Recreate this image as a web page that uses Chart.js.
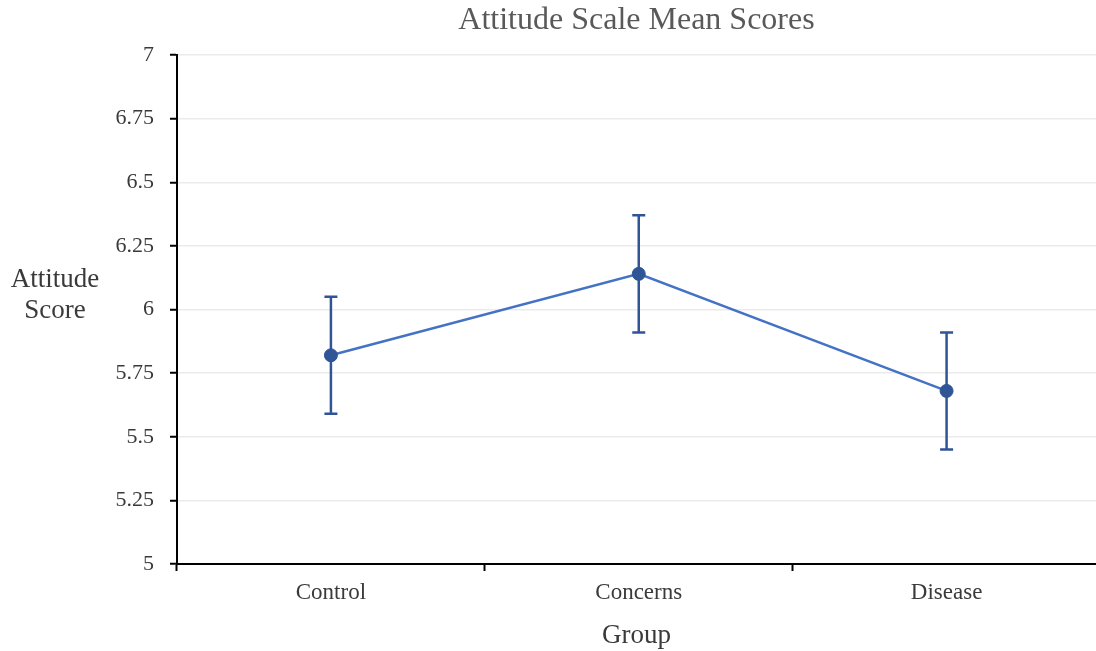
<!DOCTYPE html>
<html>
<head>
<meta charset="utf-8">
<script src="https://cdn.jsdelivr.net/npm/chart.js@4/dist/chart.umd.min.js"></script>
<style>
  html, body { margin: 0; padding: 0; background: #fff; overflow: hidden; }
  #wrap { width: 1096px; height: 651px; position: relative; overflow: hidden; }
</style>
</head>
<body>
<div id="wrap"><canvas id="c" width="1108" height="651"></canvas></div>
<script>
// Group means with their error margins
const groups = ['Control', 'Concerns', 'Disease'];
const meanScores = [5.82, 6.14, 5.68];
const errorMargins = [0.23, 0.23, 0.23];

const chartTitle = 'Attitude Scale Mean Scores';
const xAxisTitle = 'Group';
const yAxisTitle = ['Attitude', 'Score'];

const yMin = 5, yMax = 7, yStep = 0.25;

const SERIF = '"Liberation Serif", "Times New Roman", serif';
const LINE_BLUE = '#4472C4';
const DARK_BLUE = '#2F5597';
const TEXT = '#3a3a3a';

// Vertical error bars with caps, drawn beneath the line and markers
const errorBars = {
  id: 'errorBars',
  beforeDatasetsDraw(chart) {
    const ctx = chart.ctx;
    const y = chart.scales.y;
    const meta = chart.getDatasetMeta(0);
    ctx.save();
    ctx.strokeStyle = DARK_BLUE;
    ctx.lineWidth = 2.5;
    meta.data.forEach((pt, i) => {
      const top = y.getPixelForValue(meanScores[i] + errorMargins[i]);
      const bot = y.getPixelForValue(meanScores[i] - errorMargins[i]);
      const x = pt.x;
      ctx.beginPath();
      ctx.moveTo(x, top); ctx.lineTo(x, bot);
      ctx.moveTo(x - 6.5, top); ctx.lineTo(x + 6.5, top);
      ctx.moveTo(x - 6.5, bot); ctx.lineTo(x + 6.5, bot);
      ctx.stroke();
    });
    ctx.restore();
  }
};

// Titles centred on the visible plot width; the y title sits horizontally to the left
const titles = {
  id: 'titles',
  afterDraw(chart) {
    const ctx = chart.ctx;
    const a = chart.chartArea;
    const cx = (a.left + 1096) / 2;
    ctx.save();
    ctx.textAlign = 'center';
    ctx.textBaseline = 'middle';
    ctx.fillStyle = '#595959';
    ctx.font = '32px ' + SERIF;
    ctx.fillText(chartTitle, cx, 21);
    ctx.fillStyle = TEXT;
    ctx.font = '27px ' + SERIF;
    ctx.fillText(xAxisTitle, cx, 636);
    ctx.fillText(yAxisTitle[0], 55, 280);
    ctx.fillText(yAxisTitle[1], 55, 311);
    ctx.restore();
  }
};

new Chart(document.getElementById('c'), {
  type: 'line',
  data: {
    labels: groups,
    datasets: [{
      data: meanScores,
      borderColor: LINE_BLUE,
      borderWidth: 2.5,
      pointRadius: 6.5,
      pointHoverRadius: 6.5,
      pointBackgroundColor: DARK_BLUE,
      pointBorderColor: DARK_BLUE,
      pointBorderWidth: 1,
      tension: 0
    }]
  },
  options: {
    responsive: false,
    animation: false,
    events: [],
    layout: { padding: { top: 55, right: 0, left: 0, bottom: 0 } },
    plugins: {
      legend: { display: false },
      title: { display: false },
      tooltip: { enabled: false }
    },
    scales: {
      x: {
        type: 'category',
        offset: true,
        grid: {
          offset: true,
          drawOnChartArea: false,
          tickLength: 7,
          tickColor: '#000',
          tickWidth: 2
        },
        border: { color: '#000', width: 2 },
        ticks: {
          color: TEXT,
          font: { family: SERIF, size: 23 },
          padding: 8,
          maxRotation: 0
        },
        afterFit(s) { s.height = 87; }
      },
      y: {
        min: yMin,
        max: yMax,
        grid: {
          color: '#ebebeb',
          lineWidth: 1.5,
          tickLength: 7,
          tickColor: '#000',
          tickWidth: 2
        },
        border: { color: '#000', width: 2 },
        ticks: {
          stepSize: yStep,
          color: TEXT,
          font: { family: SERIF, size: 22 },
          padding: 16,
          callback: v => String(Number(v))
        },
        afterFit(s) { s.width = 177; }
      }
    }
  },
  plugins: [errorBars, titles]
});
</script>
</body>
</html>
